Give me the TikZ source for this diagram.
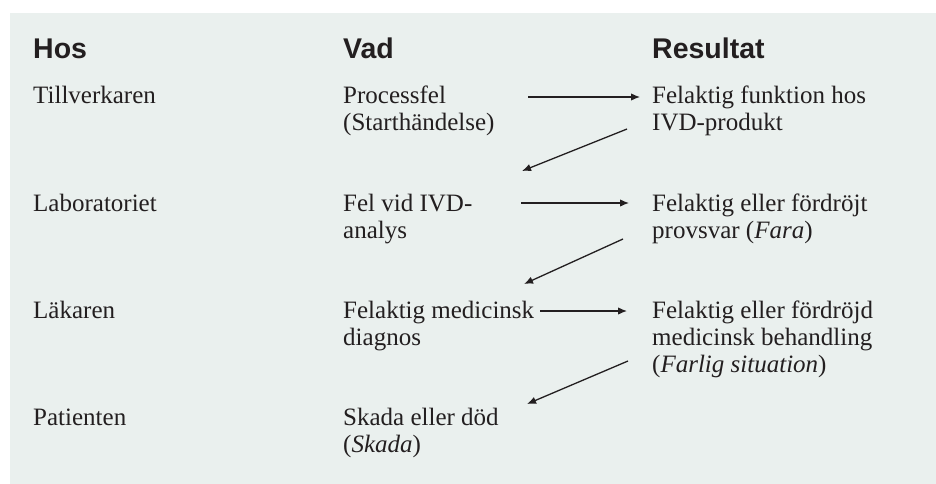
\documentclass[tikz,border=0pt]{standalone}
\usepackage{fontspec}
\setmainfont{Liberation Serif}
\newfontfamily\rubrikfont{Liberation Sans}
\usetikzlibrary{arrows.meta}
\definecolor{bakgrund}{RGB}{234,240,238}
\definecolor{svart}{RGB}{35,31,32}
\tikzset{
	rubrik/.style={anchor=base west, inner sep=0pt, font=\rubrikfont\bfseries\fontsize{28.5}{30}\selectfont},
	brodtext/.style={anchor=base west, inner sep=0pt, align=left, font=\fontsize{25}{27}\selectfont},
	pil/.style={-{Latex[length=9pt,width=7.5pt]}, line width=1.3pt}
}
\begin{document}
\begin{tikzpicture}[x=1pt, y=-1pt, svart]
		\useasboundingbox (0,0) rectangle (936,484);
		\fill[bakgrund] (10,13) rectangle (936,484);
		
		%rubriker
		\node[rubrik] (hos) at (33,59) {Hos};
		\node[rubrik] (vad) at (343,59) {Vad};
		\node[rubrik] (res) at (652,59) {Resultat};
		
		%kolumn hos
		\node[brodtext] (hos1) at (33,104) {Tillverkaren};
		\node[brodtext] (hos2) at (33,211) {Laboratoriet};
		\node[brodtext] (hos3) at (33,318) {Läkaren};
		\node[brodtext] (hos4) at (33,425) {Patienten};
		
		%kolumn vad (base = sista raden)
		\node[brodtext] (vad1) at (343,131) {Processfel\\(Starthändelse)};
		\node[brodtext] (vad2) at (343,238) {Fel vid IVD-\\analys};
		\node[brodtext] (vad3) at (343,345) {Felaktig medicinsk\\diagnos};
		\node[brodtext] (vad4) at (343,452) {Skada eller död\\(\textit{Skada})};
		
		%kolumn resultat
		\node[brodtext] (res1) at (652,131) {Felaktig funktion hos\\IVD-produkt};
		\node[brodtext] (res2) at (652,238) {Felaktig eller fördröjt\\provsvar (\textit{Fara})};
		\node[brodtext] (res3) at (652,372) {Felaktig eller fördröjd\\medicinsk behandling\\(\textit{Farlig situation})};
		
		%pilar
		\coordinate (h1a) at (528,97);  \coordinate (h1b) at (640,97);
		\coordinate (h2a) at (521,203); \coordinate (h2b) at (629,203);
		\coordinate (h3a) at (540,311); \coordinate (h3b) at (627,311);
		\coordinate (d1a) at (627,129); \coordinate (d1b) at (522,171);
		\coordinate (d2a) at (623,239); \coordinate (d2b) at (524,284);
		\coordinate (d3a) at (628,361); \coordinate (d3b) at (527,404);
		\foreach \p in {h1,h2,h3,d1,d2,d3}{
			\draw[pil] (\p a) -- (\p b);
		}
\end{tikzpicture}
\end{document}
